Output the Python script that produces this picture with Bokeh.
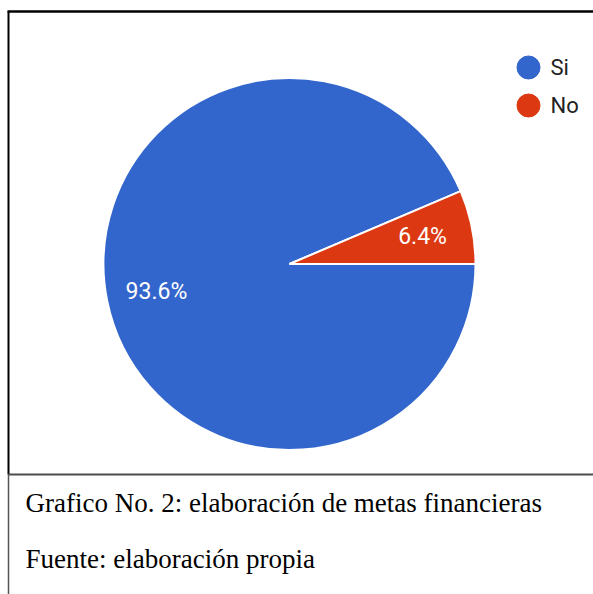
import math
from bokeh.plotting import figure
from bokeh.models import ColumnDataSource
from bokeh.core.properties import value
from bokeh.embed import file_html
from bokeh.resources import INLINE

# ---- data ----
categories = ["Si", "No"]
percents = [93.6, 6.4]
colors = ["#3366CC", "#DC3912"]
caption_lines = ["Grafico No. 2: elaboración de metas financieras",
                 "Fuente: elaboración propia"]

W, H = 593, 594
p = figure(width=W, height=H, x_range=(0, W), y_range=(0, H),
           min_border=0, toolbar_location=None, output_backend="svg")
p.axis.visible = False
p.grid.visible = False
p.outline_line_color = None
p.background_fill_color = "white"
p.border_fill_color = "white"

# ---- pie ----
cx, cy, R = 289, 330.5, 186
total = sum(percents)
order = ["No", "Si"]
starts, ends, mids = {}, {}, {}
acc = 0.0
for name in order:
    v = percents[categories.index(name)]
    a0 = acc / total * 2 * math.pi
    acc += v
    a1 = acc / total * 2 * math.pi
    starts[name], ends[name], mids[name] = a0, a1, (a0 + a1) / 2

src = ColumnDataSource(dict(
    start=[starts[c] for c in categories],
    end=[ends[c] for c in categories],
    color=colors,
    x=[cx] * len(categories),
    y=[cy] * len(categories),
))
p.wedge(x="x", y="y", radius=R, radius_units="screen",
        start_angle="start", end_angle="end",
        fill_color="color", line_color="white", line_width=2, source=src)

lr = 0.73 * R
lab = ColumnDataSource(dict(
    x=[cx + lr * math.cos(mids[c]) for c in categories],
    y=[cy + lr * math.sin(mids[c]) for c in categories],
    t=[f"{v:.1f}%" for v in percents],
))
p.text(x="x", y="y", text="t", source=lab, text_color="white",
       text_font=value("Roboto"), text_font_size="23px",
       text_align="center", text_baseline="middle")

# ---- legend ----
lx, ly0, lstep = 528, 527, 38
leg = ColumnDataSource(dict(
    x=[lx] * len(categories),
    y=[ly0 - i * lstep for i in range(len(categories))],
    tx=[lx + 22] * len(categories),
    t=categories,
    color=colors,
))
p.scatter(x="x", y="y", size=23, marker="circle", fill_color="color",
          line_color="color", source=leg)
p.text(x="tx", y="y", text="t", source=leg, text_color="#222222",
       text_font=value("Roboto"), text_font_size="22px",
       text_align="left", text_baseline="middle")

# ---- borders ----
p.line(x=[7, W], y=[583, 583], line_color="black", line_width=2.5)
p.line(x=[8, 8], y=[583, 120], line_color="black", line_width=2)
p.line(x=[8, 8], y=[120, 0], line_color="#555555", line_width=1.5)
p.line(x=[8, W], y=[120, 120], line_color="#4d4d4d", line_width=2)

# ---- caption ----
cap = ColumnDataSource(dict(x=[25, 25], y=[92, 36], t=caption_lines))
p.text(x="x", y="y", text="t", source=cap, text_color="black",
       text_font=value("Liberation Serif"), text_font_size="27px",
       text_align="left", text_baseline="alphabetic")

open("out.html", "w").write(file_html(p, INLINE))
